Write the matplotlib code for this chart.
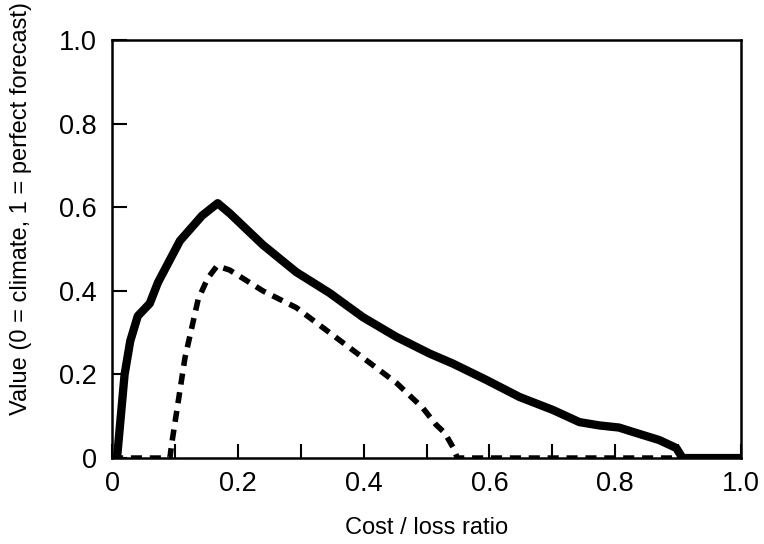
import matplotlib
matplotlib.use("Agg")
import matplotlib.pyplot as plt
import numpy as np

# solid curve (cost/loss ratio, value)
solid_x = [0.008, 0.02, 0.029, 0.041, 0.060, 0.073, 0.087, 0.108, 0.143, 0.168,
           0.187, 0.24, 0.293, 0.346, 0.399, 0.452, 0.505, 0.542, 0.595, 0.648,
           0.701, 0.743, 0.775, 0.806, 0.827, 0.87, 0.897, 0.907, 1.0]
solid_y = [0.0, 0.20, 0.28, 0.34, 0.37, 0.42, 0.46, 0.52, 0.58, 0.61,
           0.586, 0.51, 0.445, 0.395, 0.337, 0.29, 0.25, 0.226, 0.187, 0.146,
           0.115, 0.086, 0.078, 0.073, 0.063, 0.043, 0.024, 0.0, 0.0]

# dashed curve
dash_x = [0.0, 0.092, 0.095, 0.116, 0.137, 0.152, 0.167, 0.187, 0.24, 0.293,
          0.346, 0.399, 0.452, 0.494, 0.515, 0.529, 0.542, 0.549, 1.0]
dash_y = [0.0, 0.0, 0.035, 0.24, 0.38, 0.43, 0.46, 0.45, 0.40, 0.36,
          0.30, 0.24, 0.18, 0.12, 0.08, 0.06, 0.026, 0.0, 0.0]

xticks = [0, 0.2, 0.4, 0.6, 0.8, 1.0]
xticklabels = ["0", "0.2", "0.4", "0.6", "0.8", "1.0"]
yticks = [0, 0.2, 0.4, 0.6, 0.8, 1.0]
yticklabels = ["0", "0.2", "0.4", "0.6", "0.8", "1.0"]

plt.rcParams["font.family"] = ["Liberation Sans", "DejaVu Sans"]

fig = plt.figure(figsize=(7.64, 5.44), dpi=100)
ax = fig.add_axes([0.1466, 0.158, 0.8234, 0.768])

ax.plot(dash_x, dash_y, color="black", lw=4.0, linestyle=(0, (2.0, 1.4)),
        solid_capstyle="butt", dash_capstyle="butt")
ax.plot(solid_x, solid_y, color="black", lw=6.0, solid_joinstyle="round",
        solid_capstyle="butt")

ax.set_xlim(0, 1)
ax.set_ylim(0, 1)
ax.set_xticks(xticks)
ax.set_xticklabels(xticklabels)
ax.set_xticks(np.arange(0.1, 1.0, 0.2), minor=True)
ax.set_yticks(yticks)
ax.set_yticklabels(yticklabels)

ax.tick_params(axis="both", which="both", direction="in", width=1.5,
               labelsize=19.5, top=False, right=False)
ax.tick_params(axis="x", which="both", length=10, pad=9)
ax.tick_params(axis="y", which="major", length=11, pad=11)

for sp in ax.spines.values():
    sp.set_linewidth(1.8)

ax.set_xlabel("Cost / loss ratio", fontsize=17)
ax.xaxis.set_label_coords(0.5, -0.141)
ax.set_ylabel("Value (0 = climate, 1 = perfect forecast)", fontsize=17)
ax.yaxis.set_label_coords(-0.127, 0.598)

fig.savefig("out.png", dpi=100)
